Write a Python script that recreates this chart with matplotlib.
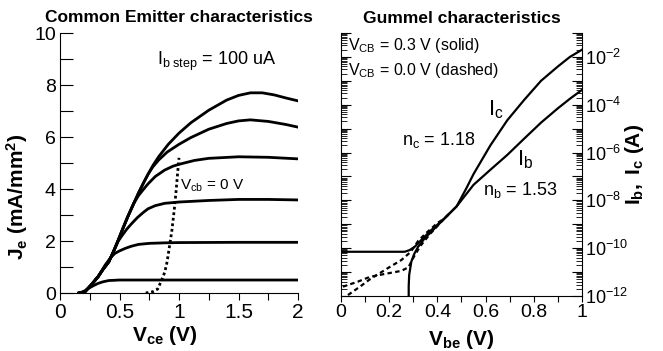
import numpy as np
import matplotlib
matplotlib.use("Agg")
import matplotlib.pyplot as plt
from matplotlib.ticker import MultipleLocator, FixedLocator, FuncFormatter, LogLocator, NullFormatter

plt.rcParams["font.family"] = ["Liberation Sans", "DejaVu Sans"]
plt.rcParams["mathtext.fontset"] = "custom"
plt.rcParams["mathtext.rm"] = "Liberation Sans"
plt.rcParams["mathtext.it"] = "Liberation Sans:italic"
plt.rcParams["mathtext.bf"] = "Liberation Sans:bold"

# ---- Common emitter data (Vce in V, Je in mA/mm^2) ----
# shared rising part of the curves
env_v = [0.16, 0.21, 0.26, 0.32, 0.36, 0.41, 0.45, 0.49, 0.53, 0.57, 0.62, 0.66, 0.70, 0.74, 0.78, 0.83, 0.91]
env_j = [0.0, 0.05, 0.30, 0.63, 0.90, 1.20, 1.60, 2.04, 2.50, 2.94, 3.45, 3.85, 4.22, 4.57, 4.90, 5.25, 5.72]

c1_v = [0.16, 0.20, 0.24, 0.28, 0.32, 0.36, 0.41, 0.50, 1.0, 1.5, 2.0]
c1_j = [0.0, 0.06, 0.18, 0.28, 0.37, 0.43, 0.48, 0.50, 0.50, 0.50, 0.50]

c2_v = [0.16, 0.21, 0.26, 0.32, 0.35, 0.38, 0.42, 0.46, 0.50, 0.55, 0.60, 0.66, 0.75, 0.88, 1.0, 1.5, 2.0]
c2_j = [0.0, 0.05, 0.30, 0.62, 0.85, 1.08, 1.33, 1.52, 1.62, 1.72, 1.80, 1.87, 1.91, 1.93, 1.94, 1.95, 1.95]

c3_tail_v = [0.49, 0.52, 0.56, 0.60, 0.65, 0.70, 0.74, 0.80, 0.88, 1.0, 1.25, 1.5, 1.75, 2.0]
c3_tail_j = [2.00, 2.20, 2.45, 2.66, 2.90, 3.10, 3.24, 3.36, 3.45, 3.50, 3.56, 3.60, 3.60, 3.58]

c4_tail_v = [0.66, 0.70, 0.74, 0.80, 0.88, 0.95, 1.0, 1.13, 1.25, 1.5, 1.75, 2.0]
c4_tail_j = [3.75, 3.98, 4.20, 4.48, 4.73, 4.88, 4.95, 5.10, 5.18, 5.24, 5.22, 5.16]

c5_tail_v = [0.78, 0.83, 0.90, 1.0, 1.1, 1.25, 1.4, 1.5, 1.6, 1.75, 1.9, 2.0]
c5_tail_j = [4.85, 5.12, 5.42, 5.72, 5.98, 6.30, 6.52, 6.62, 6.66, 6.60, 6.48, 6.38]

c6_tail_v = [1.0, 1.1, 1.25, 1.4, 1.5, 1.6, 1.7, 1.8, 1.9, 2.0]
c6_tail_j = [6.15, 6.55, 7.03, 7.42, 7.60, 7.70, 7.70, 7.62, 7.50, 7.39]

vcb0_v = [0.72, 0.78, 0.82, 0.85, 0.88, 0.90, 0.92, 0.94, 0.96, 0.975, 0.99, 1.0]
vcb0_j = [0.0, 0.05, 0.15, 0.45, 0.80, 1.20, 1.80, 2.40, 3.20, 3.90, 4.70, 5.20]

# ---- Gummel data (Vbe in V, log10 of current in A) ----
ic_solid_v = [0.281, 0.281, 0.283, 0.292, 0.303, 0.32, 0.347, 0.389, 0.43, 0.48, 0.52, 0.55, 0.62, 0.69, 0.76, 0.83, 0.90, 0.95, 1.0]
ic_solid_log = [-12.6, -11.6, -11.12, -10.56, -10.26, -9.94, -9.59, -9.17, -8.75, -8.25, -7.5, -6.9, -5.7, -4.65, -3.8, -3.0, -2.4, -2.0, -1.7]

ib_solid_v = [0.0, 0.264, 0.285, 0.306, 0.333, 0.375, 0.43, 0.48, 0.55, 0.62, 0.69, 0.76, 0.83, 0.90, 0.95, 1.0]
ib_solid_log = [-10.15, -10.15, -10.08, -9.94, -9.66, -9.24, -8.75, -8.25, -7.35, -6.72, -6.1, -5.42, -4.75, -4.15, -3.75, -3.38]

dash_a_v = [0.008, 0.07, 0.12, 0.17, 0.25, 0.28, 0.30, 0.33, 0.37, 0.43, 0.45]
dash_a_log = [-11.61, -11.4, -11.2, -11.1, -10.95, -10.8, -10.4, -9.9, -9.4, -8.75, -8.55]

dash_b_v = [0.029, 0.08, 0.12, 0.20, 0.25, 0.29, 0.32, 0.35, 0.40, 0.43, 0.45]
dash_b_log = [-11.96, -11.6, -11.3, -10.8, -10.5, -10.15, -9.7, -9.4, -8.95, -8.75, -8.55]

fig = plt.figure(figsize=(6.63, 3.51), dpi=100)

# ================= Common Emitter =================
ax1 = fig.add_axes([0.0905, 0.1652, 0.359, 0.7407])
lw = 2.0
ax1.plot(c1_v, c1_j, color="black", lw=lw)
ax1.plot(c2_v, c2_j, color="black", lw=lw)
ax1.plot(env_v[:7] + c3_tail_v, env_j[:7] + c3_tail_j, color="black", lw=lw)
ax1.plot(env_v[:11] + c4_tail_v, env_j[:11] + c4_tail_j, color="black", lw=lw)
ax1.plot(env_v[:14] + c5_tail_v, env_j[:14] + c5_tail_j, color="black", lw=lw)
ax1.plot(env_v + c6_tail_v, env_j + c6_tail_j, color="black", lw=lw)
ax1.plot(vcb0_v, vcb0_j, color="black", lw=2.0, linestyle=(0, (1, 1)))

ax1.set_xlim(0, 2)
ax1.set_ylim(0, 10)
ax1.xaxis.set_major_locator(MultipleLocator(0.5))
ax1.xaxis.set_minor_locator(MultipleLocator(0.25))
ax1.yaxis.set_major_locator(MultipleLocator(2))
ax1.yaxis.set_minor_locator(MultipleLocator(1))
ax1.xaxis.set_major_formatter(FuncFormatter(lambda x, p: "%g" % x))
ax1.tick_params(axis="x", which="both", direction="out", length=5, width=0.8, labelsize=15, pad=2)
ax1.tick_params(axis="y", which="both", direction="in", length=9, width=0.8, labelsize=14, pad=3)
ax1.spines["top"].set_visible(False)
ax1.spines["right"].set_visible(False)
ax1.set_xlabel(r"$\mathbf{V_{ce}\ (V)}$", fontsize=15)
ax1.xaxis.set_label_coords(0.44, -0.12)
ax1.set_ylabel(r"$\mathbf{J_e\ (mA/mm^2)}$", fontsize=15)
ax1.yaxis.set_label_coords(-0.125, 0.37)
ax1.set_title("Common Emitter characteristics", fontsize=12.5, fontweight="bold", pad=8)
ax1.text(0.815, 8.77, r"$\mathrm{I_{b\ step}}$ = 100 uA", fontsize=13, va="baseline")
ax1.text(1.008, 3.96, r"$\mathrm{V_{cb}}$ = 0 V", fontsize=11, va="baseline")

# ================= Gummel =================
ax2 = fig.add_axes([0.5143, 0.1567, 0.3635, 0.7493])
ax2.set_yscale("log")
ax2.plot(ic_solid_v, 10.0 ** np.array(ic_solid_log), color="black", lw=1.6)
ax2.plot(ib_solid_v, 10.0 ** np.array(ib_solid_log), color="black", lw=1.6)
ax2.plot(dash_a_v, 10.0 ** np.array(dash_a_log), color="black", lw=1.6, linestyle=(0, (2, 1.5)))
ax2.plot(dash_b_v, 10.0 ** np.array(dash_b_log), color="black", lw=1.6, linestyle=(0, (2, 1.5)))

ax2.set_xlim(0, 1)
ax2.set_ylim(1e-12, 1e-1)
ax2.xaxis.set_major_locator(MultipleLocator(0.2))
ax2.xaxis.set_minor_locator(MultipleLocator(0.1))
ax2.xaxis.set_major_formatter(FuncFormatter(lambda x, p: "%g" % x))
ax2.yaxis.set_major_locator(FixedLocator([10.0 ** k for k in range(-12, 0)]))
ax2.yaxis.set_minor_locator(LogLocator(base=10, subs=np.arange(2, 10), numticks=30))
ax2.yaxis.set_minor_formatter(NullFormatter())


def even_decades(y, pos):
    k = int(round(np.log10(y)))
    if k % 2 == 0:
        return r"$10^{%d}$" % k
    return ""


ax2.yaxis.set_major_formatter(FuncFormatter(even_decades))
ax2.tick_params(axis="x", which="both", direction="out", length=4, width=0.8, labelsize=14, pad=2)
ax2.tick_params(axis="y", which="major", direction="in", length=7, width=0.8,
                left=True, right=True, labelleft=False, labelright=True, labelsize=13, pad=2)
ax2.tick_params(axis="y", which="minor", direction="in", length=4, width=0.6, left=True, right=True)
ax2.spines["top"].set_visible(False)
ax2.set_xlabel(r"$\mathbf{V_{be}\ (V)}$", fontsize=15)
ax2.xaxis.set_label_coords(0.5, -0.12)
ax2.yaxis.set_label_position("right")
ax2.set_ylabel(r"$\mathbf{I_b,\ I_c\ (A)}$", fontsize=15)
ax2.yaxis.set_label_coords(1.17, 0.5)
ax2.set_title("Gummel characteristics", fontsize=12.5, fontweight="bold", pad=7)

ax2.text(0.029, 10 ** -1.71, r"$\mathrm{V_{CB}}$ = 0.3 V (solid)", fontsize=11.5, va="baseline")
ax2.text(0.029, 10 ** -2.75, r"$\mathrm{V_{CB}}$ = 0.0 V (dashed)", fontsize=11.5, va="baseline")
ax2.text(0.61, 10 ** -4.43, r"$\mathrm{I_c}$", fontsize=16, va="baseline")
ax2.text(0.252, 10 ** -5.68, r"$\mathrm{n_c}$ = 1.18", fontsize=13, va="baseline")
ax2.text(0.729, 10 ** -6.52, r"$\mathrm{I_b}$", fontsize=16, va="baseline")
ax2.text(0.59, 10 ** -7.77, r"$\mathrm{n_b}$ = 1.53", fontsize=13, va="baseline")

fig.savefig("out.png", dpi=100)
